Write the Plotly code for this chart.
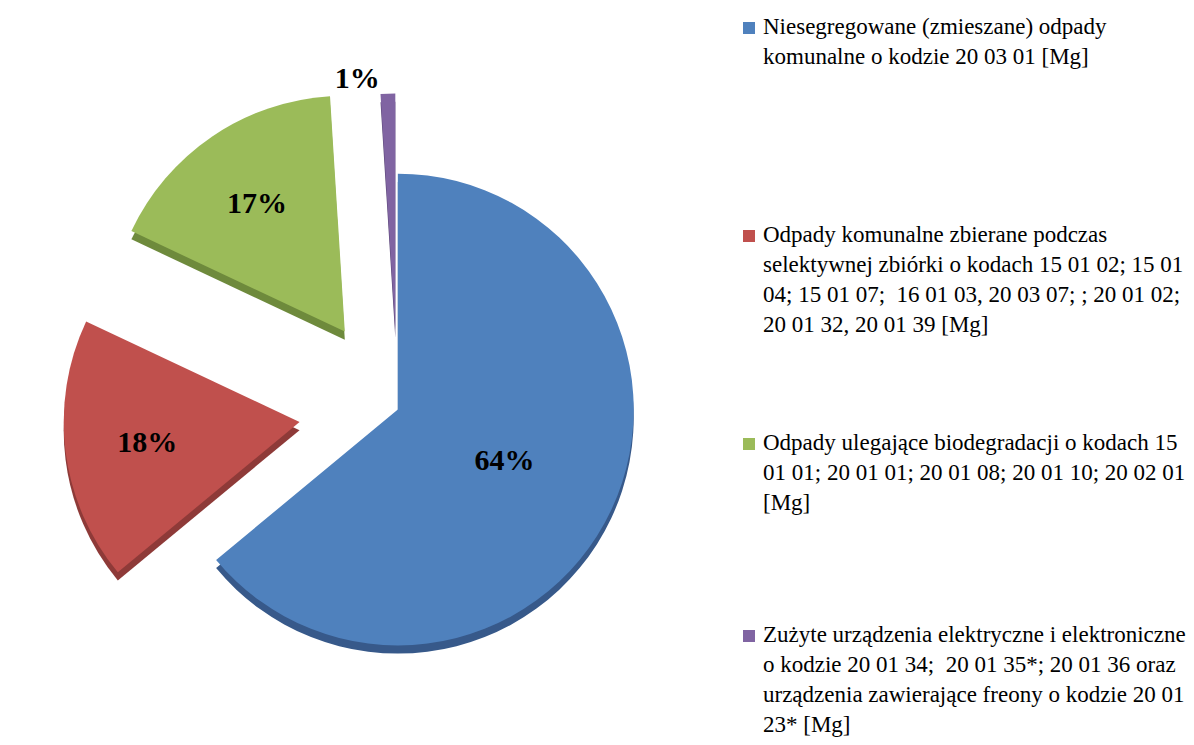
import plotly.graph_objects as go

labels = [
    "Niesegregowane (zmieszane) odpady<br>komunalne o kodzie 20 03 01 [Mg]",
    "Odpady komunalne zbierane podczas<br>selektywnej zbiórki o kodach 15 01 02; 15 01<br>04; 15 01 07;  16 01 03, 20 03 07; ; 20 01 02;<br>20 01 32, 20 01 39 [Mg]",
    "Odpady ulegające biodegradacji o kodach 15<br>01 01; 20 01 01; 20 01 08; 20 01 10; 20 02 01<br>[Mg]",
    "Zużyte urządzenia elektryczne i elektroniczne<br>o kodzie 20 01 34;  20 01 35*; 20 01 36 oraz<br>urządzenia zawierające freony o kodzie 20 01<br>23* [Mg]",
]
percent_values = [64, 18, 17, 1]
colors = ["#4F81BD", "#C0504D", "#9BBB59", "#8064A2"]
side_colors = ["#37598A", "#8E3A38", "#6E8A3C", "#5A4677"]
pulls = [0, 0.42, 0.40, 0.34]

W, H = 1194, 745
PIE_X = [0.046, 0.607]

fig = go.Figure()
# darker copy slightly lower: the side faces of the 3-D pie
fig.add_trace(go.Pie(
    labels=labels,
    values=percent_values,
    sort=False,
    direction="clockwise",
    rotation=0,
    pull=pulls,
    marker=dict(colors=side_colors, line=dict(width=0)),
    textinfo="none",
    domain=dict(x=PIE_X, y=[0.0, 0.9]),
    showlegend=False,
    hoverinfo="skip",
))
fig.add_trace(go.Pie(
    labels=labels,
    values=percent_values,
    sort=False,
    direction="clockwise",
    rotation=0,
    pull=pulls,
    marker=dict(colors=colors, line=dict(width=0)),
    textinfo="percent",
    texttemplate="%{percent:.0%}",
    textposition=["inside", "inside", "inside", "outside"],
    insidetextorientation="horizontal",
    textfont=dict(family="Liberation Serif", size=30, color="black", weight="bold"),
    domain=dict(x=PIE_X, y=[0.011, 0.911]),
    showlegend=False,
    hoverinfo="label+percent",
))

# legend drawn down the right-hand side, one block per slice
legend_tops_px = [4, 212, 420, 612]
sq_x0, sq_x1, text_x = 735, 747, 753
for lab, col, top in zip(labels, colors, legend_tops_px):
    fig.add_annotation(
        text=lab, xref="paper", yref="paper",
        x=text_x / W, y=1 - top / H,
        xanchor="left", yanchor="top", align="left", showarrow=False,
        font=dict(family="Liberation Serif", size=23, color="black"),
    )
    cy = top + 16
    fig.add_shape(
        type="rect", xref="paper", yref="paper",
        x0=sq_x0 / W, x1=sq_x1 / W,
        y0=1 - (cy + 6) / H, y1=1 - (cy - 6) / H,
        fillcolor=col, line=dict(width=0),
    )

fig.update_layout(
    width=W,
    height=H,
    margin=dict(l=0, r=0, t=0, b=0, autoexpand=False),
    paper_bgcolor="white",
    plot_bgcolor="white",
    showlegend=False,
)

fig.write_html("out.html")
